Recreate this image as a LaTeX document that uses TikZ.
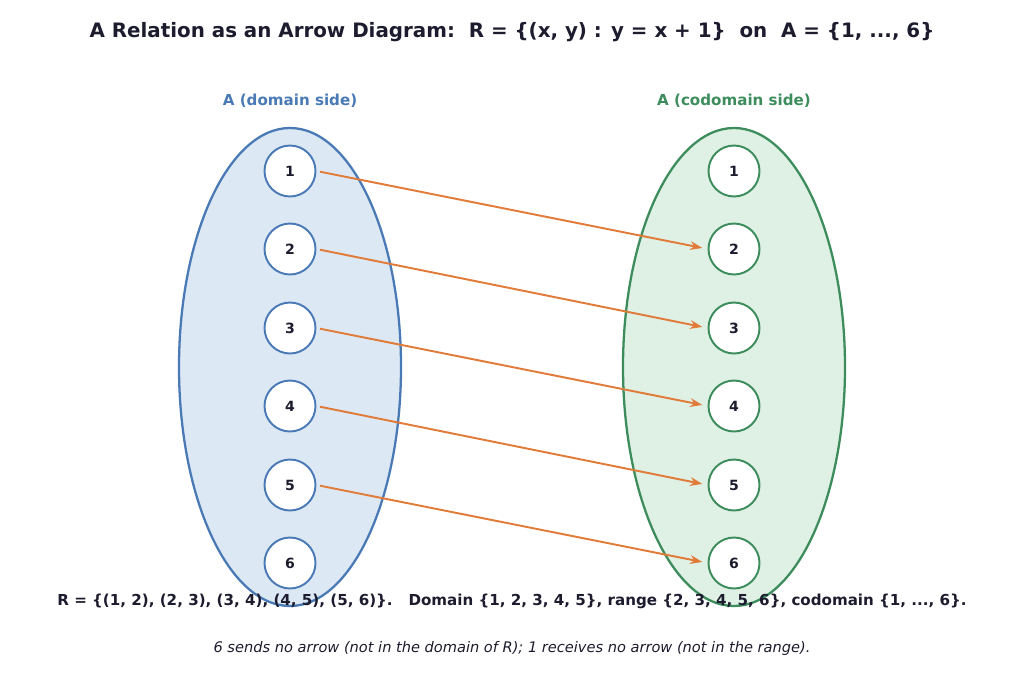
\documentclass[tikz,border=0pt]{standalone}
\usepackage{fontspec}
\setmainfont{DejaVu Sans}
\usetikzlibrary{arrows.meta}
\definecolor{ink}{HTML}{1C1C2E}
\definecolor{bl}{HTML}{4A7AB5}
\definecolor{blf}{HTML}{DDE8F5}
\definecolor{gr}{HTML}{3D8C5C}
\definecolor{grf}{HTML}{DFF0E5}
\definecolor{or}{HTML}{E07B39}
\begin{document}
\begin{tikzpicture}[x=0.02cm,y=-0.02cm,
  el/.style={circle,minimum size=51*0.02cm,inner sep=0pt,fill=white,line width=1.1pt,font=\fontsize{8}{9}\selectfont\bfseries,text=ink},
  arr/.style={or,line width=1.1pt,-{Stealth[length=7pt,width=5pt]},shorten >=3pt,shorten <=2pt}]
\useasboundingbox (0,0) rectangle (1024,683);
\node[text=ink,font=\fontsize{11.3}{13}\selectfont\bfseries] (title) at (512,32) {A Relation as an Arrow Diagram:\ \ R = \{(x, y) : y = x + 1\}\ \ on\ \ A = \{1, ..., 6\}};
\draw[bl,fill=blf,line width=1.3pt] (290,367) ellipse [x radius=111,y radius=239];
\draw[gr,fill=grf,line width=1.3pt] (734,367) ellipse [x radius=111,y radius=239];
\node[text=bl,font=\fontsize{8.6}{10}\selectfont\bfseries] (la) at (290,101) {A (domain side)};
\node[text=gr,font=\fontsize{8.6}{10}\selectfont\bfseries] (lb) at (734,101) {A (codomain side)};
\foreach \i/\y in {1/171,2/249,3/328,4/406,5/485,6/563}{
  \node[el,draw=bl] (a\i) at (290,\y) {\i};
  \node[el,draw=gr] (b\i) at (734,\y) {\i};
}
\foreach \i/\j in {1/2,2/3,3/4,4/5,5/6}{\draw[arr] (a\i.east) -- (b\j.west);}
\node[text=ink,font=\fontsize{8.6}{10}\selectfont\bfseries] (t1) at (512,601) {R = \{(1, 2), (2, 3), (3, 4), (4, 5), (5, 6)\}.\ \ \ Domain \{1, 2, 3, 4, 5\}, range \{2, 3, 4, 5, 6\}, codomain \{1, ..., 6\}.};
\node[text=ink,font=\fontsize{8.3}{10}\selectfont\itshape] (t2) at (512,648) {6 sends no arrow (not in the domain of R); 1 receives no arrow (not in the range).};
\end{tikzpicture}
\end{document}
